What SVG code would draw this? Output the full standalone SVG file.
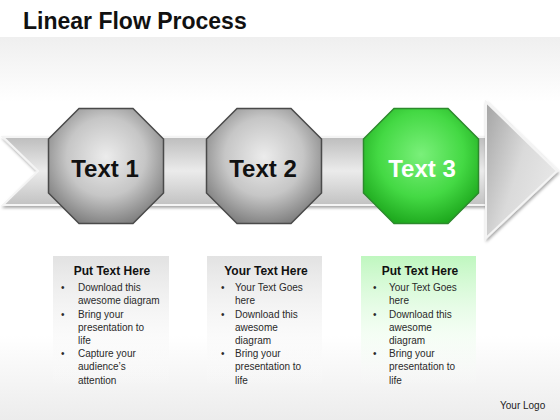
<svg xmlns="http://www.w3.org/2000/svg" width="560" height="420" viewBox="0 0 560 420">
  <defs>
    <linearGradient id="bg" x1="0" y1="0" x2="0" y2="1">
      <stop offset="0" stop-color="#efefef"/>
      <stop offset="0.17" stop-color="#ffffff"/>
      <stop offset="0.78" stop-color="#ffffff"/>
      <stop offset="1" stop-color="#ececec"/>
    </linearGradient>
    <linearGradient id="band" x1="0" y1="0" x2="0" y2="1">
      <stop offset="0" stop-color="#bdbdbd"/>
      <stop offset="0.5" stop-color="#ebebeb"/>
      <stop offset="1" stop-color="#c2c2c2"/>
    </linearGradient>
    <linearGradient id="head" x1="0" y1="0" x2="1" y2="0.6">
      <stop offset="0" stop-color="#a4a4a4"/>
      <stop offset="0.55" stop-color="#dadada"/>
      <stop offset="1" stop-color="#e8e8e8"/>
    </linearGradient>
    <radialGradient id="gray" cx="0.5" cy="0.42" r="0.62">
      <stop offset="0" stop-color="#ececec"/>
      <stop offset="0.55" stop-color="#c6c6c6"/>
      <stop offset="1" stop-color="#7c7c7c"/>
    </radialGradient>
    <radialGradient id="green" cx="0.5" cy="0.4" r="0.62">
      <stop offset="0" stop-color="#7af07a"/>
      <stop offset="0.6" stop-color="#44d944"/>
      <stop offset="1" stop-color="#1ea91e"/>
    </radialGradient>
    <linearGradient id="boxg" x1="0" y1="0" x2="0" y2="1">
      <stop offset="0" stop-color="#e2e2e2"/>
      <stop offset="1" stop-color="#ffffff" stop-opacity="0"/>
    </linearGradient>
    <linearGradient id="boxgr" x1="0" y1="0" x2="0" y2="1">
      <stop offset="0" stop-color="#bff7bf"/>
      <stop offset="1" stop-color="#ffffff" stop-opacity="0"/>
    </linearGradient>
    <polygon id="oct" points="-27,-57.5 27,-57.5 57.5,-27 57.5,27 27,57.5 -27,57.5 -57.5,27 -57.5,-27"/>
    <filter id="sh" x="-20%" y="-20%" width="140%" height="140%">
      <feDropShadow dx="1" dy="2" stdDeviation="1.5" flood-color="#000" flood-opacity="0.35"/>
    </filter>
  </defs>
  <style>
    .title { font-family: "Liberation Sans", Arial, sans-serif; font-weight: bold; font-size: 23px; fill: #111; }
    .lbl { font-family: "Liberation Sans", Arial, sans-serif; font-weight: bold; font-size: 24px; text-anchor: middle; }
    .hd { font-family: "Liberation Sans", Arial, sans-serif; font-weight: bold; font-size: 12px; fill: #111; text-anchor: middle; }
    .bt { font-family: "Liberation Sans", Arial, sans-serif; font-size: 10px; fill: #2a2a2a; }
    .logo { font-family: "Liberation Sans", Arial, sans-serif; font-size: 10px; fill: #222; }
  </style>

  <rect x="0" y="0" width="560" height="420" fill="#ffffff"/>
  <rect x="0" y="37" width="560" height="383" fill="url(#bg)"/>

  <text class="title" x="23" y="29">Linear Flow Process</text>

  <g id="connectors">
    <path d="M3,137 L486,137 L486,205 L3,205 L38,171 Z" fill="url(#band)" stroke="#f4f4f4" stroke-width="2" filter="url(#sh)"/>
    <path d="M486,102 L557,171 L486,238 Z" fill="url(#head)" stroke="#f4f4f4" stroke-width="2" filter="url(#sh)"/>
  </g>

  <g id="node1">
    <use href="#oct" transform="translate(106,166)" fill="url(#gray)" stroke="#4a4a4a" stroke-width="1.5"/>
    <text class="lbl" x="105" y="177" fill="#111">Text 1</text>
  </g>
  <g id="node2">
    <use href="#oct" transform="translate(264,166)" fill="url(#gray)" stroke="#4a4a4a" stroke-width="1.5"/>
    <text class="lbl" x="263" y="177" fill="#111">Text 2</text>
  </g>
  <g id="node3">
    <use href="#oct" transform="translate(421,166)" fill="url(#green)" stroke="#2c8a2c" stroke-width="1.5"/>
    <text class="lbl" x="422" y="177" fill="#ffffff">Text 3</text>
  </g>

  <g id="box1">
    <rect x="53" y="256" width="116" height="134" fill="url(#boxg)"/>
    <text class="hd" x="112" y="275">Put Text Here</text>
    <g class="bt">
      <text x="61" y="291">•</text><text x="78" y="291">Download this</text>
      <text x="78" y="304">awesome diagram</text>
      <text x="61" y="317.5">•</text><text x="78" y="317.5">Bring your</text>
      <text x="78" y="330.5">presentation to</text>
      <text x="78" y="344">life</text>
      <text x="61" y="357">•</text><text x="78" y="357">Capture your</text>
      <text x="78" y="370">audience’s</text>
      <text x="78" y="383.5">attention</text>
    </g>
  </g>

  <g id="box2">
    <rect x="207" y="256" width="115" height="134" fill="url(#boxg)"/>
    <text class="hd" x="266" y="275">Your Text Here</text>
    <g class="bt">
      <text x="221" y="291">•</text><text x="235" y="291">Your Text Goes</text>
      <text x="235" y="304">here</text>
      <text x="221" y="317.5">•</text><text x="235" y="317.5">Download this</text>
      <text x="235" y="330.5">awesome</text>
      <text x="235" y="344">diagram</text>
      <text x="221" y="357">•</text><text x="235" y="357">Bring your</text>
      <text x="235" y="370">presentation to</text>
      <text x="235" y="383.5">life</text>
    </g>
  </g>

  <g id="box3">
    <rect x="361" y="256" width="115" height="134" fill="url(#boxgr)"/>
    <text class="hd" x="420" y="275">Put Text Here</text>
    <g class="bt">
      <text x="373" y="291">•</text><text x="389" y="291">Your Text Goes</text>
      <text x="389" y="304">here</text>
      <text x="373" y="317.5">•</text><text x="389" y="317.5">Download this</text>
      <text x="389" y="330.5">awesome</text>
      <text x="389" y="344">diagram</text>
      <text x="373" y="357">•</text><text x="389" y="357">Bring your</text>
      <text x="389" y="370">presentation to</text>
      <text x="389" y="383.5">life</text>
    </g>
  </g>

  <text class="logo" x="500" y="409">Your Logo</text>
</svg>
